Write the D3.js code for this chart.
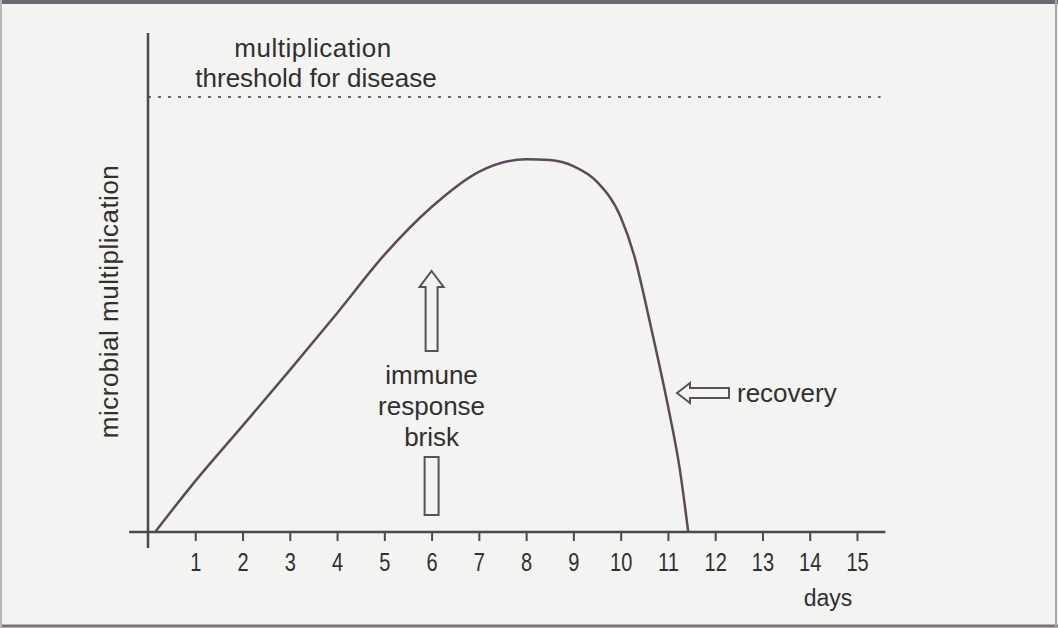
<!DOCTYPE html>
<html lang="en">
<head>
  <meta charset="UTF-8">
  <title>Microbial multiplication</title>
  <script src="https://d3js.org/d3.v7.min.js"></script>
  <style>
  body { margin: 0; background: #f3f3f1; }
  text { font-family: "Liberation Sans", Arial, sans-serif; fill: #303030; }
  </style>
</head>
<body>
<div id="chart"></div>
<script>

// data (level: 100 = threshold for disease)
const days   = [0.15, 1, 2, 3, 4, 5, 6, 7, 8, 8.5, 9, 9.5, 10, 10.3, 10.5, 10.75, 11, 11.25, 11.43];
const levels = [0, 11.7, 24.4, 37.2, 50.3, 63.7, 74.7, 82.8, 85.7, 85.5, 84.1, 80.5, 72.4, 63, 54, 41.8, 29, 14.5, 0];
const dayTicks = d3.range(1, 16);
const threshold = 100;

const w = 1058, h = 628;

const svg = d3.select("#chart").append("svg")
  .attr("width", w)
  .attr("height", h);

svg.append("rect").attr("width", w).attr("height", h).attr("fill", "#f3f3f1");

// scan frame
svg.append("line").attr("x1", 0).attr("x2", w).attr("y1", 2).attr("y2", 2)
  .attr("stroke", "#6e6670").attr("stroke-width", 4);
svg.append("line").attr("x1", 0).attr("x2", w).attr("y1", 626).attr("y2", 626)
  .attr("stroke", "#7a7478").attr("stroke-width", 3);
svg.append("line").attr("x1", 1).attr("x2", 1).attr("y1", 0).attr("y2", h)
  .attr("stroke", "#b8b4b8").attr("stroke-width", 2);
svg.append("line").attr("x1", 1056).attr("x2", 1056).attr("y1", 0).attr("y2", h)
  .attr("stroke", "#a8a4a8").attr("stroke-width", 2);

// scales
const x = d3.scaleLinear().domain([0, 15]).range([148, 857]);
const y = d3.scaleLinear().domain([0, 100]).range([532, 97]);

// threshold dotted line
svg.append("line")
  .attr("x1", x(0)).attr("x2", x(15.5))
  .attr("y1", y(threshold)).attr("y2", y(threshold))
  .attr("stroke", "#6a6a6a").attr("stroke-width", 2)
  .attr("stroke-dasharray", "3,7");

// y axis line
svg.append("line")
  .attr("x1", x(0)).attr("x2", x(0))
  .attr("y1", y(114.7)).attr("y2", y(-3.7))
  .attr("stroke", "#4a4a4a").attr("stroke-width", 2.5);

// x axis
const xAxis = d3.axisBottom(x)
  .tickValues(dayTicks)
  .tickSize(9)
  .tickPadding(12)
  .tickSizeOuter(0);

const xAxisGroup = svg.append("g")
  .attr("transform", `translate(0, ${y(0)})`)
  .call(xAxis);

xAxisGroup.select(".domain").remove();
xAxisGroup.selectAll(".tick line").attr("stroke", "#4a4a4a").attr("stroke-width", 2);
xAxisGroup.selectAll(".tick text")
  .attr("font-size", 25)
  .attr("fill", "#303030")
  .attr("transform", "scale(0.8, 1)");

svg.append("line")
  .attr("x1", x(-0.4)).attr("x2", x(15.6))
  .attr("y1", y(0)).attr("y2", y(0))
  .attr("stroke", "#4a4a4a").attr("stroke-width", 2.5);

// curve
const line = d3.line()
  .x((d, i) => x(days[i]))
  .y(d => y(d))
  .curve(d3.curveMonotoneX);

svg.append("path")
  .datum(levels)
  .attr("d", line)
  .attr("fill", "none")
  .attr("stroke", "#5c4a5b")
  .attr("stroke-width", 2.5);

// labels
svg.append("text")
  .attr("transform", `translate(118, ${y(53)}) rotate(-90)`)
  .attr("text-anchor", "middle")
  .attr("font-size", 26)
  .attr("letter-spacing", 0.5)
  .text("microbial multiplication");

svg.append("text")
  .attr("x", 313).attr("y", 57)
  .attr("text-anchor", "middle")
  .attr("font-size", 26)
  .attr("letter-spacing", 0.5)
  .text("multiplication");

svg.append("text")
  .attr("x", 316).attr("y", 87)
  .attr("text-anchor", "middle")
  .attr("font-size", 26)
  .text("threshold for disease");

svg.append("text")
  .attr("x", 828).attr("y", 606)
  .attr("text-anchor", "middle")
  .attr("font-size", 23)
  .text("days");

// immune response arrows
const ax = x(6);
const arrowStyle = g => g.attr("fill", "none").attr("stroke", "#5a5058").attr("stroke-width", 2);

svg.append("path")
  .attr("d", `M${ax},271 L${ax + 12},287 L${ax + 6},287 L${ax + 6},351 L${ax - 6},351 L${ax - 6},287 L${ax - 12},287 Z`)
  .call(arrowStyle);

svg.append("rect")
  .attr("x", ax - 7).attr("y", 457)
  .attr("width", 14).attr("height", 58)
  .call(arrowStyle);

["immune", "response", "brisk"].forEach((t, i) => {
  svg.append("text")
    .attr("x", ax).attr("y", 384 + i * 31)
    .attr("text-anchor", "middle")
    .attr("font-size", 26)
    .text(t);
});

// recovery arrow
svg.append("path")
  .attr("d", "M677,393 L690,383 L690,388 L729,388 L729,398 L690,398 L690,403 Z")
  .call(arrowStyle);

svg.append("text")
  .attr("x", 737).attr("y", 402)
  .attr("font-size", 26)
  .text("recovery");

</script>
</body>
</html>
